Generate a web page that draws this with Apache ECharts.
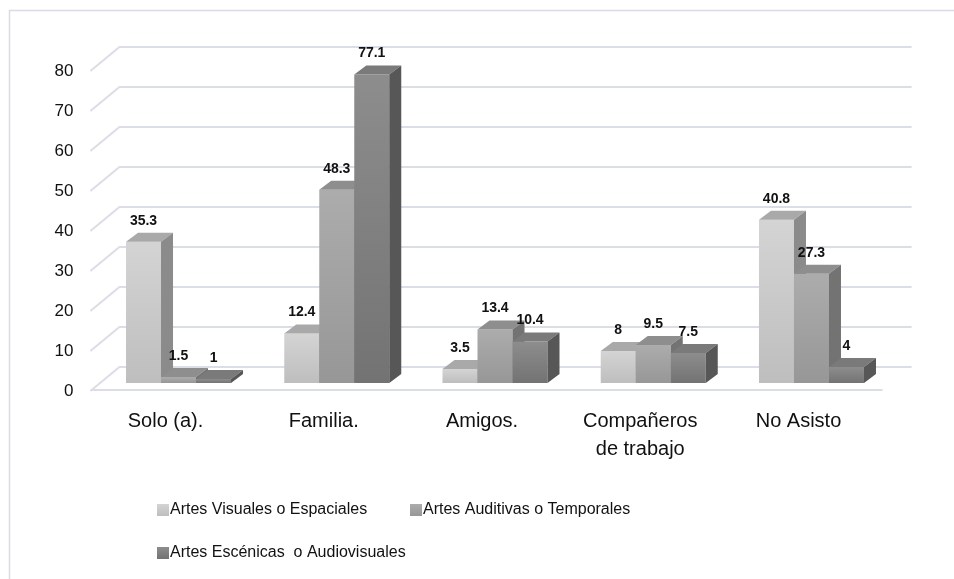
<!DOCTYPE html>
<html>
<head>
<meta charset="utf-8">
<script src="https://cdn.jsdelivr.net/npm/echarts@6/dist/echarts.min.js"></script>
<style>html,body{margin:0;padding:0;background:#fff;}#c{width:954px;height:579px;}</style>
</head>
<body>
<div id="c"></div>
<script>
var categories = ['Solo (a).', 'Familia.', 'Amigos.', 'Compañeros\nde trabajo', 'No Asisto'];
var seriesNames = ['Artes Visuales o Espaciales', 'Artes Auditivas o Temporales', 'Artes Escénicas  o Audiovisuales'];
var visuales = [35.3, 12.4, 3.5, 8, 40.8];
var auditivas = [1.5, 48.3, 13.4, 9.5, 27.3];
var escenicas = [1, 77.1, 10.4, 7.5, 4];
var yTicks = [0, 10, 20, 30, 40, 50, 60, 70, 80];

var palette = [
  {frontTop:'#d4d4d4', frontBot:'#bebebe', top:'#a9a9a9', side:'#8b8b8b'},
  {frontTop:'#acacac', frontBot:'#979797', top:'#8e8e8e', side:'#737373'},
  {frontTop:'#8d8d8d', frontBot:'#737373', top:'#7a7a7a', side:'#575757'}
];
var DX = 12, DY = -9, BAR_FRAC = 0.2212;

function grad(c){ return new echarts.graphic.LinearGradient(0,0,0,1,[{offset:0,color:c.frontTop},{offset:1,color:c.frontBot}]); }

function makeBarRender(i){
  var c = palette[i];
  return function(params, api){
    var idx = api.value(0), val = api.value(1);
    var top = api.coord([idx, val]);
    var base = api.coord([idx, 0]);
    var band = api.size([1, 0])[0];
    var w = band * BAR_FRAC;
    var x0 = top[0] - 1.5 * w + i * w;
    var yt = top[1], yb = base[1];
    return {
      type: 'group',
      children: [
        {type:'rect', z2: i*10+1, shape:{x:x0, y:yt, width:w, height:yb-yt}, style:{fill:grad(c)}},
        {type:'polygon', z2: i*10+2, shape:{points:[[x0,yt],[x0+w,yt],[x0+w+DX,yt+DY],[x0+DX,yt+DY]]}, style:{fill:c.top}},
        {type:'polygon', z2: i*10+3, shape:{points:[[x0+w,yt],[x0+w+DX,yt+DY],[x0+w+DX,yb+DY],[x0+w,yb]]}, style:{fill:c.side}},
        {type:'text', z2: 100, style:{x:x0+w/2, y:yt-21, text:String(val), align:'center', verticalAlign:'middle', font:'bold 14px "Liberation Sans", Arial, sans-serif', fill:'#111'}}
      ]
    };
  };
}

function gridRender(params, api){
  var v = api.value(1);
  var p = api.coord([0, v]);
  var cs = params.coordSys;
  var y = p[1];
  var ch = [{type:'polyline', shape:{points:[[cs.x-9, y+8],[cs.x+20, y-16],[cs.x+cs.width+21, y-16]]}, style:{stroke:'#dcdee7', lineWidth:2, fill:null}}];
  if (v === 0) {
    ch.push({type:'line', shape:{x1:cs.x-9, y1:y+7, x2:cs.x+cs.width-8, y2:y+7}, style:{stroke:'#dcdee7', lineWidth:2}});
  }
  return {type:'group', children: ch};
}

var dataSets = [visuales, auditivas, escenicas];
var series = [{
  type:'custom', name:'grid', z:1, silent:true,
  renderItem: gridRender,
  data: yTicks.map(function(t){ return [0, t]; })
}];
dataSets.forEach(function(d, i){
  series.push({
    type:'custom', name: seriesNames[i], z:2,
    itemStyle:{color: grad(palette[i])},
    renderItem: makeBarRender(i),
    data: d.map(function(v, k){ return [k, v]; })
  });
});

var legendCommon = {icon:'rect', itemWidth:12, itemHeight:12, itemGap:10, orient:'horizontal',
  textStyle:{fontFamily:'"Liberation Sans", Arial, sans-serif', fontSize:16, color:'#111', padding:[0,0,0,-4]}};

var chart = echarts.init(document.getElementById('c'), null, {renderer:'canvas'});
chart.setOption({
  animation:false,
  backgroundColor:'#fff',
  graphic:[{type:'rect', shape:{x:9.5, y:10.5, width:980, height:620}, style:{fill:null, stroke:'#d9dce3', lineWidth:1.5}, z:0, silent:true}],
  grid:{left:99.4, right:63.4, top:63, bottom:196},
  xAxis:{type:'category', data:categories, axisLine:{show:false}, axisTick:{show:false}, splitLine:{show:false},
    axisLabel:{margin:24, fontSize:20, lineHeight:28, color:'#111', fontFamily:'"Liberation Sans", Arial, sans-serif', padding:[0,26,0,0], interval:0}},
  yAxis:{type:'value', min:0, max:80, interval:10, axisLine:{show:false}, axisTick:{show:false}, splitLine:{show:false},
    axisLabel:{margin:26, fontSize:17, color:'#111', fontFamily:'"Liberation Sans", Arial, sans-serif', verticalAlign:'top'}},
  legend:[
    Object.assign({}, legendCommon, {left:152, top:497, data:[seriesNames[0]]}),
    Object.assign({}, legendCommon, {left:405, top:497, data:[seriesNames[1]]}),
    Object.assign({}, legendCommon, {left:152, top:540, data:[seriesNames[2]]})
  ],
  series: series
});
</script>
</body>
</html>
